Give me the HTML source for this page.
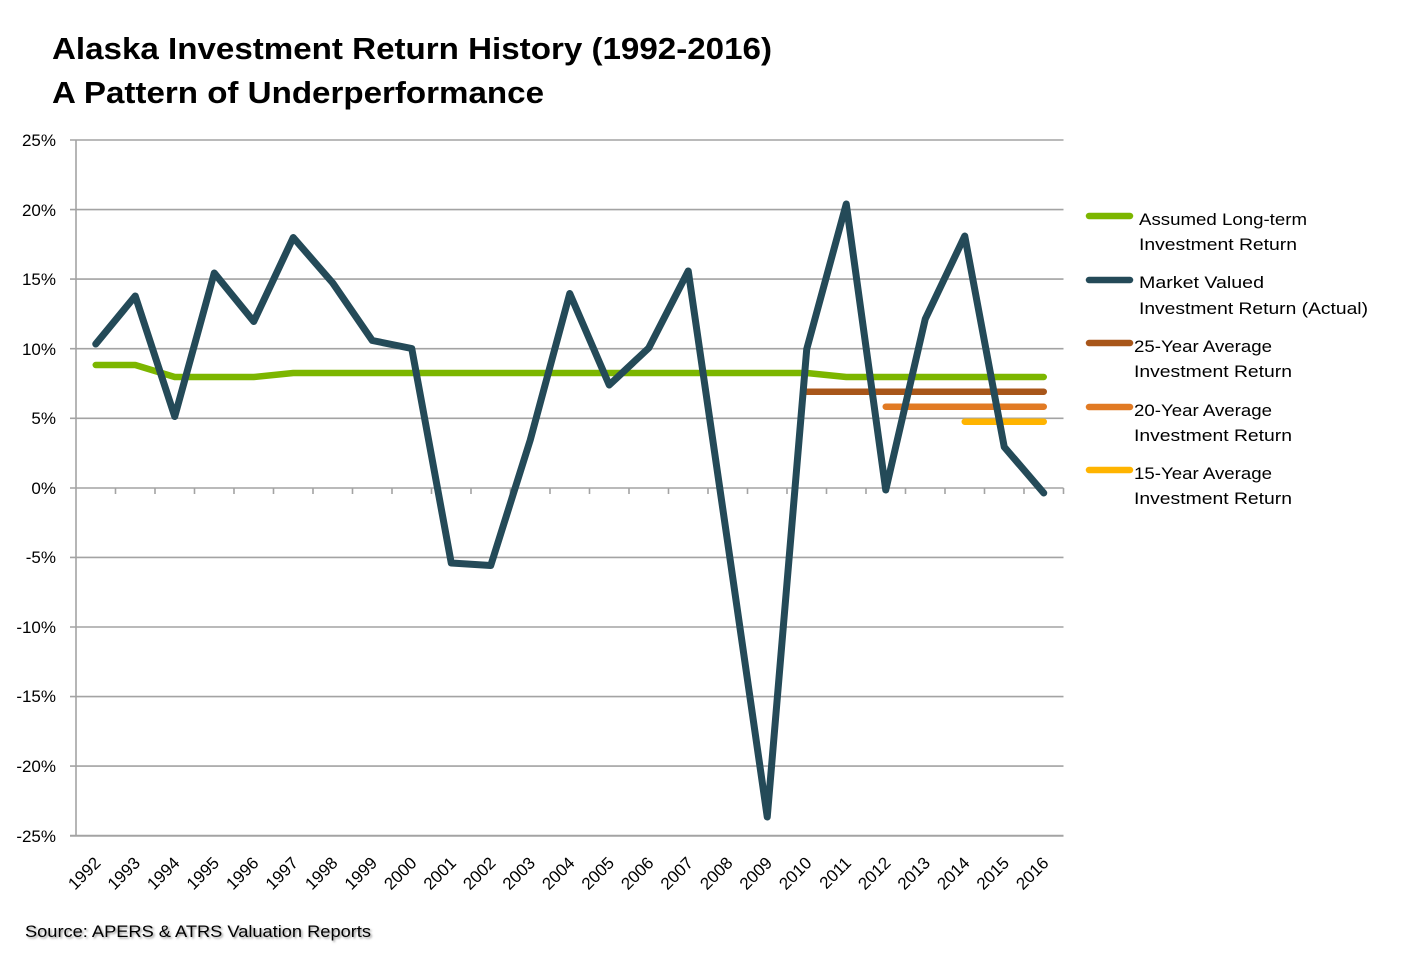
<!DOCTYPE html>
<html><head><meta charset="utf-8"><style>
html,body{margin:0;padding:0;background:#fff;}
svg{display:block;}
text{font-family:"Liberation Sans",sans-serif;fill:#000;}
</style></head><body>
<svg width="1409" height="959" viewBox="0 0 1409 959" xmlns="http://www.w3.org/2000/svg">
<defs><filter id="sh" x="-5%" y="-50%" width="110%" height="200%"><feGaussianBlur stdDeviation="1"/></filter></defs>
<rect width="1409" height="959" fill="#fff"/>
<text x="52" y="59" font-size="31" font-weight="bold" textLength="720" lengthAdjust="spacingAndGlyphs">Alaska Investment Return History (1992-2016)</text>
<text x="52" y="103" font-size="31" font-weight="bold" textLength="492" lengthAdjust="spacingAndGlyphs">A Pattern of Underperformance</text>
<g stroke="#a3a3a3" stroke-width="1.6" fill="none">
<line x1="70" y1="140" x2="1063.5" y2="140"/>
<line x1="70" y1="209.6" x2="1063.5" y2="209.6"/>
<line x1="70" y1="279.1" x2="1063.5" y2="279.1"/>
<line x1="70" y1="348.7" x2="1063.5" y2="348.7"/>
<line x1="70" y1="418.3" x2="1063.5" y2="418.3"/>
<line x1="70" y1="488" x2="1063.5" y2="488"/>
<line x1="70" y1="557.4" x2="1063.5" y2="557.4"/>
<line x1="70" y1="627" x2="1063.5" y2="627"/>
<line x1="70" y1="696.6" x2="1063.5" y2="696.6"/>
<line x1="70" y1="766.1" x2="1063.5" y2="766.1"/>
<line x1="70" y1="835.7" x2="1063.5" y2="835.7" stroke-width="2"/>
<line x1="76" y1="140" x2="76" y2="836"/>
<path d="M115.5 488v6M155 488v6M194.5 488v6M234 488v6M273.5 488v6M313 488v6M352.5 488v6M392 488v6M431.5 488v6M471 488v6M510.5 488v6M550 488v6M589.5 488v6M629 488v6M668.5 488v6M708 488v6M747.5 488v6M787 488v6M826.5 488v6M866 488v6M905.5 488v6M945 488v6M984.5 488v6M1024 488v6M1063.5 488v6"/>
</g>
<g font-size="17" text-anchor="end">
<text x="56" y="146">25%</text>
<text x="56" y="216">20%</text>
<text x="56" y="285">15%</text>
<text x="56" y="355">10%</text>
<text x="56" y="424">5%</text>
<text x="56" y="494">0%</text>
<text x="56" y="563">-5%</text>
<text x="56" y="633">-10%</text>
<text x="56" y="702">-15%</text>
<text x="56" y="772">-20%</text>
<text x="56" y="842">-25%</text>
</g>
<g fill="none" stroke-linecap="round" stroke-linejoin="round">
<polyline stroke="#7cb600" stroke-width="6.5" points="95.75,365 135.25,365 174.75,377 253.75,377 293.25,373 806.75,373 846.25,377 1043.75,377"/>
<line stroke="#a8561a" stroke-width="6.5" x1="806.75" y1="391.7" x2="1043.75" y2="391.7"/>
<line stroke="#e17a23" stroke-width="6.5" x1="885.75" y1="406.7" x2="1043.75" y2="406.7"/>
<line stroke="#ffb400" stroke-width="6.5" x1="964.75" y1="421.7" x2="1043.75" y2="421.7"/>
<polyline stroke="#244a58" stroke-width="7" points="95.75,344 135.25,296 174.75,416.5 214.25,273 253.75,321.5 293.25,237.5 332.75,283 372.25,340.5 411.75,348.5 451.25,563 490.75,565.5 530.25,440 569.75,293.5 609.25,385 648.75,348 688.25,271 727.75,543 767.25,817 806.75,349 846.25,204 885.75,490 925.25,319 964.75,236 1004.25,447 1043.75,493"/>
</g>
<g font-size="17" text-anchor="end">
<text transform="translate(101.75,864) rotate(-45)">1992</text>
<text transform="translate(141.25,864) rotate(-45)">1993</text>
<text transform="translate(180.75,864) rotate(-45)">1994</text>
<text transform="translate(220.25,864) rotate(-45)">1995</text>
<text transform="translate(259.75,864) rotate(-45)">1996</text>
<text transform="translate(299.25,864) rotate(-45)">1997</text>
<text transform="translate(338.75,864) rotate(-45)">1998</text>
<text transform="translate(378.25,864) rotate(-45)">1999</text>
<text transform="translate(417.75,864) rotate(-45)">2000</text>
<text transform="translate(457.25,864) rotate(-45)">2001</text>
<text transform="translate(496.75,864) rotate(-45)">2002</text>
<text transform="translate(536.25,864) rotate(-45)">2003</text>
<text transform="translate(575.75,864) rotate(-45)">2004</text>
<text transform="translate(615.25,864) rotate(-45)">2005</text>
<text transform="translate(654.75,864) rotate(-45)">2006</text>
<text transform="translate(694.25,864) rotate(-45)">2007</text>
<text transform="translate(733.75,864) rotate(-45)">2008</text>
<text transform="translate(773.25,864) rotate(-45)">2009</text>
<text transform="translate(812.75,864) rotate(-45)">2010</text>
<text transform="translate(852.25,864) rotate(-45)">2011</text>
<text transform="translate(891.75,864) rotate(-45)">2012</text>
<text transform="translate(931.25,864) rotate(-45)">2013</text>
<text transform="translate(970.75,864) rotate(-45)">2014</text>
<text transform="translate(1010.25,864) rotate(-45)">2015</text>
<text transform="translate(1049.75,864) rotate(-45)">2016</text>
</g>
<g stroke-linecap="round" stroke-width="6.5">
<line x1="1089" y1="216" x2="1130" y2="216" stroke="#7cb600"/>
<line x1="1089" y1="280" x2="1130" y2="280" stroke="#244a58"/>
<line x1="1089" y1="343" x2="1130" y2="343" stroke="#a8561a"/>
<line x1="1089" y1="407" x2="1130" y2="407" stroke="#e17a23"/>
<line x1="1089" y1="470" x2="1130" y2="470" stroke="#ffb400"/>
</g>
<g font-size="17" lengthAdjust="spacingAndGlyphs">
<text x="1139" y="225" textLength="168" lengthAdjust="spacingAndGlyphs">Assumed Long-term</text>
<text x="1139" y="250" textLength="158" lengthAdjust="spacingAndGlyphs">Investment Return</text>
<text x="1139" y="288" textLength="125" lengthAdjust="spacingAndGlyphs">Market Valued</text>
<text x="1139" y="314" textLength="229" lengthAdjust="spacingAndGlyphs">Investment Return (Actual)</text>
<text x="1134" y="352" textLength="138" lengthAdjust="spacingAndGlyphs">25-Year Average</text>
<text x="1134" y="377" textLength="158" lengthAdjust="spacingAndGlyphs">Investment Return</text>
<text x="1134" y="416" textLength="138" lengthAdjust="spacingAndGlyphs">20-Year Average</text>
<text x="1134" y="441" textLength="158" lengthAdjust="spacingAndGlyphs">Investment Return</text>
<text x="1134" y="479" textLength="138" lengthAdjust="spacingAndGlyphs">15-Year Average</text>
<text x="1134" y="504" textLength="158" lengthAdjust="spacingAndGlyphs">Investment Return</text>
</g>
<text x="26.5" y="938.5" font-size="17" textLength="346" lengthAdjust="spacingAndGlyphs" style="fill:#9a9a9a" filter="url(#sh)">Source: APERS &amp; ATRS Valuation Reports</text>
<text x="25" y="937" font-size="17" textLength="346" lengthAdjust="spacingAndGlyphs">Source: APERS &amp; ATRS Valuation Reports</text>
</svg>
</body></html>
